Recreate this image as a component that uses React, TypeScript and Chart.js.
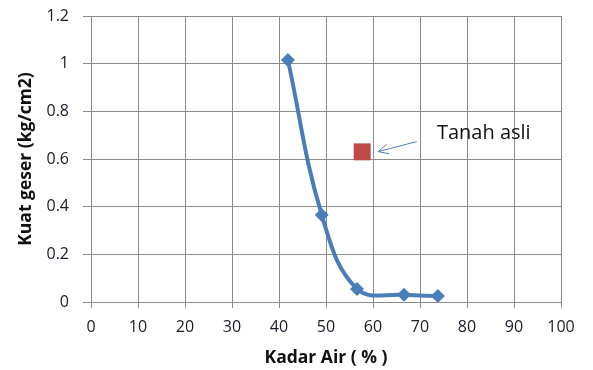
import React, { useEffect, useRef } from 'react';
import { Chart, registerables } from 'chart.js';

Chart.register(...registerables);

// Data
const curveX = [41.9, 49.1, 56.6, 66.6, 73.8];
const curveY = [1.015, 0.365, 0.055, 0.03, 0.025];
const soilX = [57.7];
const soilY = [0.63];
const xTicks = [0, 10, 20, 30, 40, 50, 60, 70, 80, 90, 100];
const yTicks = [0, 0.2, 0.4, 0.6, 0.8, 1, 1.2];
const annotationText = 'Tanah asli';
const annotationAt = [73.6, 0.709];
const arrowFrom = [69.3, 0.673];
const arrowTo = [61.1, 0.631];

const FONT = '"Open Sans", "DejaVu Sans", sans-serif';
const BLUE = '#4a7ebb';
const RED = '#be4b48';

const annotationPlugin = {
  id: 'annotationArrow',
  afterDatasetsDraw(chart: any) {
    const { ctx, scales } = chart;
    const xs = scales.x;
    const ys = scales.y;
    const x1 = xs.getPixelForValue(arrowFrom[0]);
    const y1 = ys.getPixelForValue(arrowFrom[1]);
    const x2 = xs.getPixelForValue(arrowTo[0]);
    const y2 = ys.getPixelForValue(arrowTo[1]);
    ctx.save();
    ctx.strokeStyle = BLUE;
    ctx.lineWidth = 1;
    ctx.beginPath();
    ctx.moveTo(x1, y1);
    ctx.lineTo(x2, y2);
    const ang = Math.atan2(y2 - y1, x2 - x1);
    const hl = 11;
    const spread = 0.45;
    ctx.moveTo(x2 - hl * Math.cos(ang - spread), y2 - hl * Math.sin(ang - spread));
    ctx.lineTo(x2, y2);
    ctx.lineTo(x2 - hl * Math.cos(ang + spread), y2 - hl * Math.sin(ang + spread));
    ctx.stroke();
    ctx.fillStyle = '#111';
    ctx.font = `20px ${FONT}`;
    ctx.textAlign = 'left';
    ctx.textBaseline = 'middle';
    ctx.fillText(annotationText, xs.getPixelForValue(annotationAt[0]), ys.getPixelForValue(annotationAt[1]));
    ctx.restore();
  },
};

export default function App() {
  const ref = useRef<HTMLCanvasElement | null>(null);
  useEffect(() => {
    if (!ref.current) return;
    const chart = new Chart(ref.current, {
      type: 'scatter',
      data: {
        datasets: [
          {
            label: 'Kuat geser',
            data: curveX.map((x, i) => ({ x, y: curveY[i] })),
            showLine: true,
            tension: 0.4,
            borderColor: BLUE,
            backgroundColor: BLUE,
            borderWidth: 4,
            pointStyle: 'rectRot',
            pointRadius: 7,
            pointBorderWidth: 0,
          },
          {
            label: 'Tanah asli',
            data: soilX.map((x, i) => ({ x, y: soilY[i] })),
            showLine: false,
            backgroundColor: RED,
            borderColor: RED,
            pointStyle: 'rect',
            pointRadius: 12,
            pointBorderWidth: 0,
          },
        ],
      },
      options: {
        responsive: false,
        animation: false,
        layout: { padding: { top: 16, right: 32, left: 0, bottom: 0 } },
        plugins: {
          legend: { display: false },
          tooltip: { enabled: false },
        },
        scales: {
          x: {
            type: 'linear',
            min: 0,
            max: 100,
            afterBuildTicks: (s: any) => {
              s.ticks = xTicks.map((v) => ({ value: v }));
            },
            afterFit: (s: any) => {
              s.height = 68;
            },
            grid: { color: '#8c8c8c', lineWidth: 1, tickLength: 6 },
            border: { color: '#8c8c8c', width: 1 },
            ticks: {
              color: '#1a1a2a',
              font: { family: FONT, size: 16 },
              padding: 10,
              maxRotation: 0,
            },
            title: {
              display: true,
              text: 'Kadar Air ( % )',
              color: '#111',
              font: { family: FONT, size: 17.5, weight: 'bold' },
              padding: { top: 0, bottom: 1 },
            },
          },
          y: {
            type: 'linear',
            min: 0,
            max: 1.2,
            afterBuildTicks: (s: any) => {
              s.ticks = yTicks.map((v) => ({ value: v }));
            },
            afterFit: (s: any) => {
              s.width = 91;
              s.paddingTop = 0;
              s.paddingBottom = 0;
            },
            grid: { color: '#8c8c8c', lineWidth: 1, tickLength: 8 },
            border: { color: '#8c8c8c', width: 1 },
            ticks: {
              color: '#1a1a2a',
              font: { family: FONT, size: 16 },
              padding: 14,
              callback: (v: any) => String(Number(Number(v).toFixed(1))),
            },
            title: {
              display: true,
              text: 'Kuat geser (kg/cm2)',
              color: '#111',
              font: { family: FONT, size: 17.5, weight: 'bold' },
              padding: { top: 16, bottom: 0 },
            },
          },
        },
      },
      plugins: [annotationPlugin],
    });
    return () => chart.destroy();
  }, []);
  return (
    <div style={{ position: 'fixed', left: 0, top: 0, width: 593, height: 370, background: '#fff' }}>
      <canvas ref={ref} width={593} height={370} />
    </div>
  );
}
